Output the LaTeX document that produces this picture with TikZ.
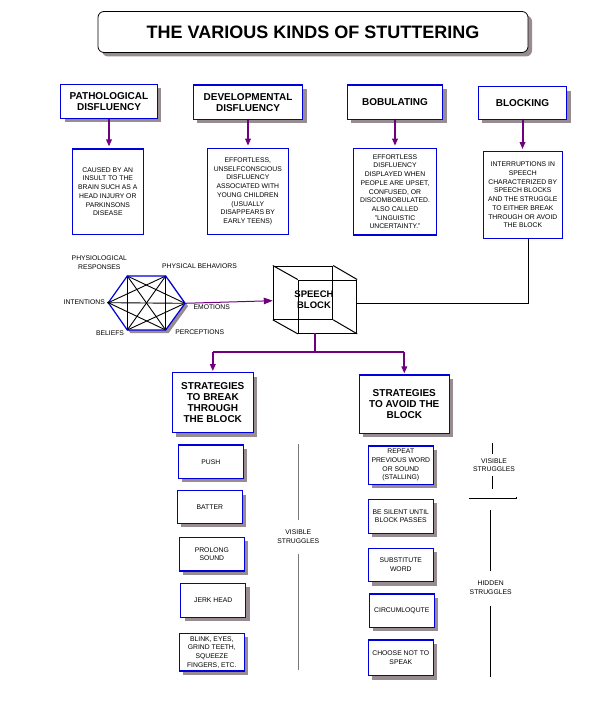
\documentclass[tikz,border=0pt]{standalone}
\usepackage{fontspec}
\setmainfont{Liberation Sans}
\usetikzlibrary{arrows.meta,shadows,calc}
\definecolor{boxblue}{RGB}{0,0,220}
\definecolor{purp}{RGB}{112,0,128}
\definecolor{shadowgray}{RGB}{150,140,145}
\definecolor{linegray}{RGB}{120,120,120}
\begin{document}
\begin{tikzpicture}[x=1pt,y=-1pt,
  shad/.style={drop shadow={shadow xshift=4pt,shadow yshift=-4pt,fill=shadowgray,opacity=1}},
  hdr/.style={draw=boxblue,line width=1.2pt,fill=white,font=\fontsize{10}{11}\selectfont\bfseries,align=center,inner sep=0pt,shad},
  desc/.style={draw=boxblue,line width=1.2pt,fill=white,font=\fontsize{6.8}{8.7}\selectfont,align=center,inner sep=0pt},
  sbox/.style={desc,shad,minimum width=65pt},
  lbl/.style={font=\fontsize{6.8}{8.7}\selectfont,align=center,inner sep=0pt},
  parrow/.style={draw=purp,line width=2pt,-{Triangle[length=7pt,width=5.5pt]}},
  pline/.style={draw=purp,line width=2pt},
  cubeline/.style={draw=black,line width=1pt}]
\useasboundingbox[fill=white] (0,0) rectangle (602,708);

% title
\node[draw=black,line width=0.8pt,rounded corners=6pt,fill=white,shad,minimum width=430pt,minimum height=41pt,
  font=\fontsize{18}{20}\selectfont\bfseries] (title) at (313,32) {THE VARIOUS KINDS OF STUTTERING};

% top headers
\node[hdr,minimum width=96.6pt,minimum height=34pt] (path) at (109,101.3) {PATHOLOGICAL\\DISFLUENCY};
\node[hdr,minimum width=109.4pt,minimum height=34.3pt] (dev) at (248,102.2) {DEVELOPMENTAL\\DISFLUENCY};
\node[hdr,minimum width=95.4pt,minimum height=34.3pt] (bob) at (395,102.2) {BOBULATING};
\node[hdr,minimum width=88.4pt,minimum height=32.6pt] (blk) at (522.5,103) {BLOCKING};

% descriptions
\node[desc,minimum width=71pt,minimum height=85.3pt] (caused) at (107.8,191.7)
  {CAUSED BY AN\\INSULT TO THE\\BRAIN SUCH AS A\\HEAD INJURY OR\\PARKINSONS\\DISEASE};
\node[desc,minimum width=81pt,minimum height=86pt] (eff) at (247.8,191.3)
  {EFFORTLESS,\\UNSELFCONSCIOUS\\DISFLUENCY\\ASSOCIATED WITH\\YOUNG CHILDREN\\(USUALLY\\DISAPPEARS BY\\EARLY TEENS)};
\node[desc,minimum width=83.4pt,minimum height=86.7pt] (bobd) at (395,191.7)
  {EFFORTLESS\\DISFLUENCY\\DISPLAYED WHEN\\PEOPLE ARE UPSET,\\CONFUSED, OR\\DISCOMBOBULATED.\\ALSO CALLED\\"LINGUISTIC\\UNCERTAINTY."};
\node[desc,minimum width=79pt,minimum height=86.6pt] (intr) at (522.8,195)
  {INTERRUPTIONS IN\\SPEECH\\CHARACTERIZED BY\\SPEECH BLOCKS\\AND THE STRUGGLE\\TO EITHER BREAK\\THROUGH OR AVOID\\THE BLOCK};

\draw[parrow,shorten >=2pt] (path.south) -- (caused.north -| path.south);
\draw[parrow,shorten >=2pt] (dev.south) -- (eff.north -| dev.south);
\draw[parrow,shorten >=2pt] (bob.south) -- (bobd.north -| bob.south);
\draw[parrow,shorten >=2pt] (blk.south) -- (intr.north -| blk.south);

% hexagon
\coordinate (h1) at (127.3,276);
\coordinate (h2) at (165.7,276);
\coordinate (h3) at (185,303.3);
\coordinate (h4) at (165.7,330);
\coordinate (h5) at (127.3,330);
\coordinate (h6) at (108.3,302.7);
\fill[shadowgray] ($(h1)+(3,3)$) -- ($(h2)+(3,3)$) -- ($(h3)+(3,3)$) -- ($(h4)+(3,3)$) -- ($(h5)+(3,3)$) -- ($(h6)+(3,3)$) -- cycle;
\fill[white] (h1) -- (h2) -- (h3) -- (h4) -- (h5) -- (h6) -- cycle;
\foreach \a/\b in {h1/h3,h1/h4,h1/h5,h2/h4,h2/h5,h2/h6,h3/h5,h3/h6,h4/h6}
  \draw[black,line width=0.9pt] (\a) -- (\b);
\draw[boxblue,line width=1.2pt] (h1) -- (h2) -- (h3) -- (h4) -- (h5) -- (h6) -- cycle;
\fill[black] (h6) circle (1.3pt);

\node[lbl] (presp) at (99.3,262.5) {PHYSIOLOGICAL\\RESPONSES};
\node[lbl] (pbeh) at (199.5,266) {PHYSICAL BEHAVIORS};
\node[lbl] (inten) at (84.2,301.7) {INTENTIONS};
\node[lbl] (emot) at (211.7,307.3) {EMOTIONS};
\node[lbl] (belief) at (110,333.3) {BELIEFS};
\node[lbl] (percep) at (199.7,332.3) {PERCEPTIONS};

% cube
\node[draw=black,line width=1pt,minimum width=59.4pt,minimum height=53.3pt,inner sep=0pt] (cubeA) at (303,292.7) {};
\node[draw=black,line width=1pt,minimum width=58.4pt,minimum height=53.3pt,inner sep=0pt] (cubeB) at (327.5,306.7) {};
\draw[cubeline] (cubeA.north west) -- (cubeB.north west);
\draw[cubeline] (cubeA.north east) -- (cubeB.north east);
\draw[cubeline] (cubeA.south west) -- (cubeB.south west);
\draw[cubeline] (cubeA.south east) -- (cubeB.south east);
\node[font=\fontsize{9.5}{11}\selectfont\bfseries,align=center,inner sep=0pt] (speech) at (314,299.5) {SPEECH\\BLOCK};

\draw[draw=purp,line width=1pt,-{Triangle[length=9pt,width=6.5pt]}] (h3) -- (cubeA.west |- 0,300.7);

% blocking line to cube
\coordinate (ic) at (528.3,303.3);
\draw[black,line width=1pt] (intr.south -| ic) -- (ic) -- (ic -| cubeB.east);

% strategies
\node[hdr,minimum width=81pt,minimum height=60pt] (sbreak) at (212.8,402.7) {STRATEGIES\\TO BREAK\\THROUGH\\THE BLOCK};
\node[hdr,minimum width=90pt,minimum height=58.3pt] (savoid) at (404.3,404.2) {STRATEGIES\\TO AVOID THE\\BLOCK};

\coordinate (j) at (315,351.7);
\draw[pline] (315,333.3) -- (j);
\draw[pline] (sbreak.north |- j) -- (savoid.north |- j);
\draw[parrow,shorten >=1pt] (sbreak.north |- j) -- (sbreak.north);
\draw[parrow,shorten >=1pt] (savoid.north |- j) -- (savoid.north);

% left small boxes
\node[sbox,minimum height=33.3pt] (push) at (210.8,461.7) {PUSH};
\node[sbox,minimum height=32.6pt] (batter) at (209.8,507) {BATTER};
\node[sbox,minimum height=33.7pt] (prolong) at (211.8,554.2) {PROLONG\\SOUND};
\node[sbox,minimum height=34pt] (jerk) at (213.2,600.3) {JERK HEAD};
\node[sbox,minimum height=37.7pt] (blink) at (211.8,652.2) {BLINK, EYES,\\GRIND TEETH,\\SQUEEZE\\FINGERS, ETC.};

% right small boxes
\node[sbox,minimum height=38.3pt] (repeat) at (400.8,465.2) {REPEAT\\PREVIOUS WORD\\OR SOUND\\(STALLING)};
\node[sbox,minimum height=34pt] (silent) at (400.8,516.3) {BE SILENT UNTIL\\BLOCK PASSES};
\node[sbox,minimum height=33.4pt] (subst) at (400.8,565) {SUBSTITUTE\\WORD};
\node[sbox,minimum height=33.3pt] (circ) at (401.8,610.7) {CIRCUMLOQUTE};
\node[sbox,minimum height=35.7pt] (choose) at (400.8,657.8) {CHOOSE NOT TO\\SPEAK};

% visible struggles (left)
\node[lbl] (vis1) at (298.3,536.7) {VISIBLE\\STRUGGLES};
\coordinate (v1t) at (298.3,444);
\coordinate (v1b) at (298.3,670);
\draw[linegray,line width=1pt] (v1t) -- (298.3,520);
\draw[linegray,line width=1pt] (298.3,554) -- (v1b);

% right struggles
\node[lbl] (vis2) at (494,465.2) {VISIBLE\\STRUGGLES};
\node[lbl] (hid) at (490.7,587.8) {HIDDEN\\STRUGGLES};
\draw[black,line width=1pt] (492.7,443) -- (492.7,454);
\draw[black,line width=1pt] (492.7,476) -- (492.7,489.3);
\draw[black,line width=1pt] (469,498.3) -- (516.7,498.3);
\draw[black,line width=1pt] (516.7,496.8) -- (516.7,498.3);
\draw[black,line width=1pt] (490.7,510) -- (490.7,570.7);
\draw[black,line width=1pt] (490.7,605.7) -- (490.7,676.7);
\end{tikzpicture}
\end{document}
